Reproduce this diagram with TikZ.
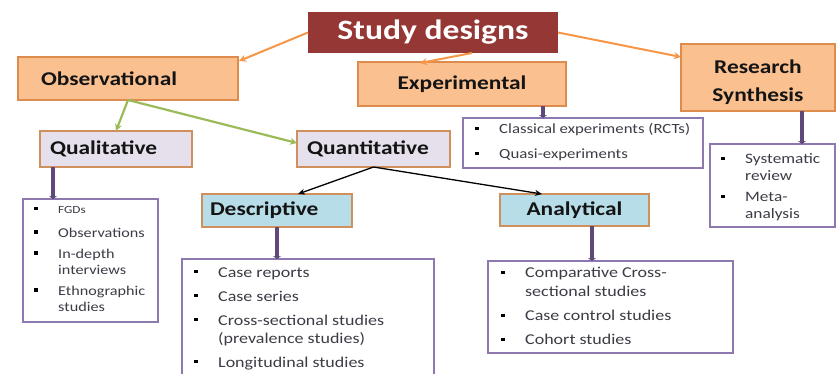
\documentclass[tikz,border=0pt]{standalone}
\usepackage{fontspec}
\setmainfont{Carlito}[FakeStretch=1.2]
\usetikzlibrary{arrows.meta}
\definecolor{sdred}{HTML}{953735}
\definecolor{orfill}{HTML}{FAC090}
\definecolor{orborder}{HTML}{DE8C4E}
\definecolor{lavfill}{HTML}{E6E0EC}
\definecolor{bluefill}{HTML}{B7DEE8}
\definecolor{brborder}{HTML}{D0905E}
\definecolor{listborder}{HTML}{8E78B0}
\definecolor{purp}{HTML}{5F497A}
\definecolor{orarrow}{HTML}{F79646}
\definecolor{grarrow}{HTML}{9BBB59}
\definecolor{hdrtext}{HTML}{141414}
\definecolor{listtext}{HTML}{3C3C46}
\newcommand{\bul}{\makebox[24pt][l]{\textcolor{black}{\rule[0.26em]{3.5pt}{3.2pt}}}}
\newcommand{\nob}{\hspace*{24pt}}
\newcommand{\fs}{\rule{0pt}{12pt}}
\begin{document}
\begin{tikzpicture}[x=1pt,y=-1pt,
  box/.style={anchor=north west, inner sep=0pt, outer sep=0pt, line width=1.3pt},
  hdr/.style={box, draw=orborder, fill=orfill, text=hdrtext, font=\fontsize{19.5}{22}\selectfont\bfseries},
  sub/.style={box, draw=brborder, fill=lavfill, text=hdrtext, font=\fontsize{19.5}{22}\selectfont\bfseries},
  blu/.style={box, draw=brborder, fill=bluefill, text=hdrtext, font=\fontsize{19.5}{22}\selectfont\bfseries},
  listbox/.style={box, draw=listborder, fill=white, line width=1.3pt},
  listtxt/.style={anchor=north west, inner sep=0pt, align=left, text=listtext},
  orarr/.style={draw=orarrow, line width=2pt, -{Stealth[length=7pt,width=7pt]}},
  grarr/.style={draw=grarrow, line width=2.2pt, -{Stealth[length=7pt,width=7pt]}},
  blarr/.style={draw=black, line width=1.3pt, -{Stealth[length=7pt,width=6pt]}},
  pparr/.style={draw=purp, line width=3.4pt, -{Stealth[length=3pt,width=8pt]}}
]
\useasboundingbox (0,0) rectangle (836,373);
\fill[white] (0,0) rectangle (836,373);

% top
\node[box, fill=sdred, text=white, minimum width=250pt, minimum height=41pt,
  font=\fontsize{28}{32}\selectfont\bfseries] (sd) at (308,12) {Study designs};

% level 1
\node[hdr, minimum width=220pt, minimum height=43pt, text width=174pt, inner xsep=23pt, align=left] (obs) at (18,57) {Observational};
\node[hdr, minimum width=208pt, minimum height=44pt] (exp) at (358,62) {Experimental};
\node[hdr, minimum width=154pt, minimum height=67pt] (rs) at (681,44) {};
\node[anchor=center, inner sep=0pt, align=center, text=hdrtext, font=\fontsize{19.5}{28}\selectfont\bfseries] (rs-t) at ([yshift=-4.5]rs.center) {Research\\Synthesis};

% level 2
\node[sub, minimum width=152pt, minimum height=36pt, text width=132pt, inner xsep=10pt, align=left] (qual) at (40,131) {Qualitative};
\node[sub, minimum width=153pt, minimum height=36pt, text width=133pt, inner xsep=10pt, align=left] (quant) at (297,131) {Quantitative};

% level 3
\node[blu, minimum width=150pt, minimum height=33pt, text width=134pt, inner xsep=8pt, align=left] (desc) at (202,194) {Descriptive};
\node[blu, minimum width=149pt, minimum height=32pt] (anal) at (500,194) {Analytical};

% lists
\node[listbox, minimum width=135pt, minimum height=123pt] (qlist) at (23,199) {};
\node[listtxt, font=\fontsize{13.5}{16}\selectfont] (qlist-t) at (34,201.5)
  {\fs\bul{\fontsize{11}{13}\selectfont FGDs}\\[7.5pt]\bul Observations\\[5pt]\bul In-depth\\\nob interviews\\[5pt]\bul Ethnographic\\\nob studies};

\node[listbox, minimum width=240pt, minimum height=50pt] (explist) at (463,118) {};
\node[listtxt, font=\fontsize{14}{17}\selectfont] (explist-t) at (475,121.3)
  {\fs\bul Classical experiments (RCTs)\\[8pt]\bul Quasi-experiments};

\node[listbox, minimum width=125pt, minimum height=83pt] (rlist) at (710,144) {};
\node[listtxt, font=\fontsize{14.4}{17}\selectfont] (rlist-t) at (721,151.3)
  {\fs\bul Systematic\\\nob review\\[4pt]\bul Meta-\\\nob analysis};

\node[listbox, minimum width=252pt, minimum height=130pt] (dlist) at (182,259) {};
\node[listtxt, font=\fontsize{15}{18}\selectfont] (dlist-t) at (194,265)
  {\fs\bul Case reports\\[6pt]\bul Case series\\[6pt]\bul Cross-sectional studies\\\nob (prevalence studies)\\[6pt]\bul Longitudinal studies};

\node[listbox, minimum width=245pt, minimum height=92pt] (alist) at (488,261) {};
\node[listtxt, font=\fontsize{15}{19}\selectfont] (alist-t) at (501,265.5)
  {\fs\bul Comparative Cross-\\\nob sectional studies\\[5pt]\bul Case control studies\\[5pt]\bul Cohort studies};

% connectors
\draw[orarr] (sd.west) -- ([xshift=1,yshift=-4]obs.north east);
\draw[orarr] ([xshift=164]sd.south west) -- ([xshift=62,yshift=-1]exp.north west);
\draw[orarr] (sd.east) -- ([yshift=-13]rs.north west);
\draw[grarr] (obs.south) -- (qual.north);
\draw[grarr] (obs.south) -- ([yshift=6]quant.west);
\draw[blarr] (quant.south) -- ([xshift=96]desc.north west);
\draw[blarr] (quant.south) -- ([xshift=42]anal.north west);
\draw[pparr] ([xshift=13]qual.south west) -- ([xshift=30]qlist.north west);
\draw[pparr] ([xshift=185]exp.south west) -- ([xshift=80]explist.north west);
\draw[pparr] ([xshift=121]rs.south west) -- ([xshift=92]rlist.north west);
\draw[pparr] (desc.south) -- ([xshift=95]dlist.north west);
\draw[pparr] ([xshift=92]anal.south west) -- ([xshift=104]alist.north west);
\end{tikzpicture}
\end{document}
